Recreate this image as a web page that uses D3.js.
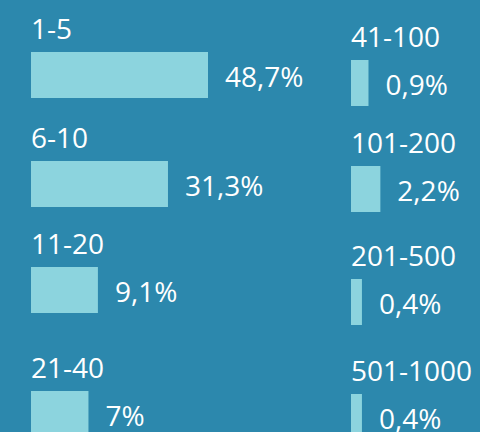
<!doctype html>
<html lang="en">
<head>
    <meta charset="UTF-8">
    <script type="text/javascript" src="https://cdn.jsdelivr.net/npm/d3@7"></script>
    <style>
      body {
            margin: 0;
            background-color: #2c88ad;
        }
        .chart {
            display: block;
        }
        .bar {
            fill: #8cd4de;
        }
        .cat, .val {
            fill: #ffffff;
            font: 28px "Open Sans", sans-serif;
        }
  </style>
</head>
<body>
  <svg class="chart"></svg>

  <script type="text/javascript">
    // size classes and their share (%)
    let categories = ["1-5", "6-10", "11-20", "21-40", "41-100", "101-200", "201-500", "501-1000"];
    let shares = [48.7, 31.3, 9.1, 7, 0.9, 2.2, 0.4, 0.4];
    // first four go in the left column, the rest in the right one
    let columns = [0, 0, 0, 0, 1, 1, 1, 1];

    let width = 480, height = 432;
    let barHeight = 46;

    let chart = d3.select("svg")
      .attr("width", width)
      .attr("height", height);

    // bar lengths are not linear in the original, a power scale fits them well
    let wScale = d3.scalePow()
      .exponent(0.58)
      .domain([0, 48.7])
      .range([0, 177]);

    let xCol = d3.scaleOrdinal()
      .domain([0, 1])
      .range([31, 351]);

    // rows are not evenly spaced in the original, so an ordinal scale per column
    let yRows = [
      d3.scaleOrdinal().domain([0, 1, 2, 3]).range([52, 161, 267, 391]),
      d3.scaleOrdinal().domain([0, 1, 2, 3]).range([60, 166, 279, 394])
    ];

    let data = categories.map(function (c, i) {
      return { cat: c, share: shares[i], col: columns[i], row: i % 4 };
    });

    function fmt(v) { return String(v).replace(".", ",") + "%"; }

    let item = chart.selectAll("g")
      .data(data)
      .enter().append("g")
      .attr("transform", function (d) {
        return "translate(" + xCol(d.col) + "," + yRows[d.col](d.row) + ")";
      });

    item.append("rect")
      .attr("class", "bar")
      .attr("x", 0)
      .attr("y", 0)
      .attr("width", function (d) { return wScale(d.share); })
      .attr("height", barHeight);

    item.append("text")
      .attr("class", "cat")
      .attr("x", 0)
      .attr("y", -13)
      .text(function (d) { return d.cat; });

    item.append("text")
      .attr("class", "val")
      .attr("x", function (d) { return wScale(d.share) + 17; })
      .attr("y", 35)
      .text(function (d) { return fmt(d.share); });
</script>
</body>
</html>
